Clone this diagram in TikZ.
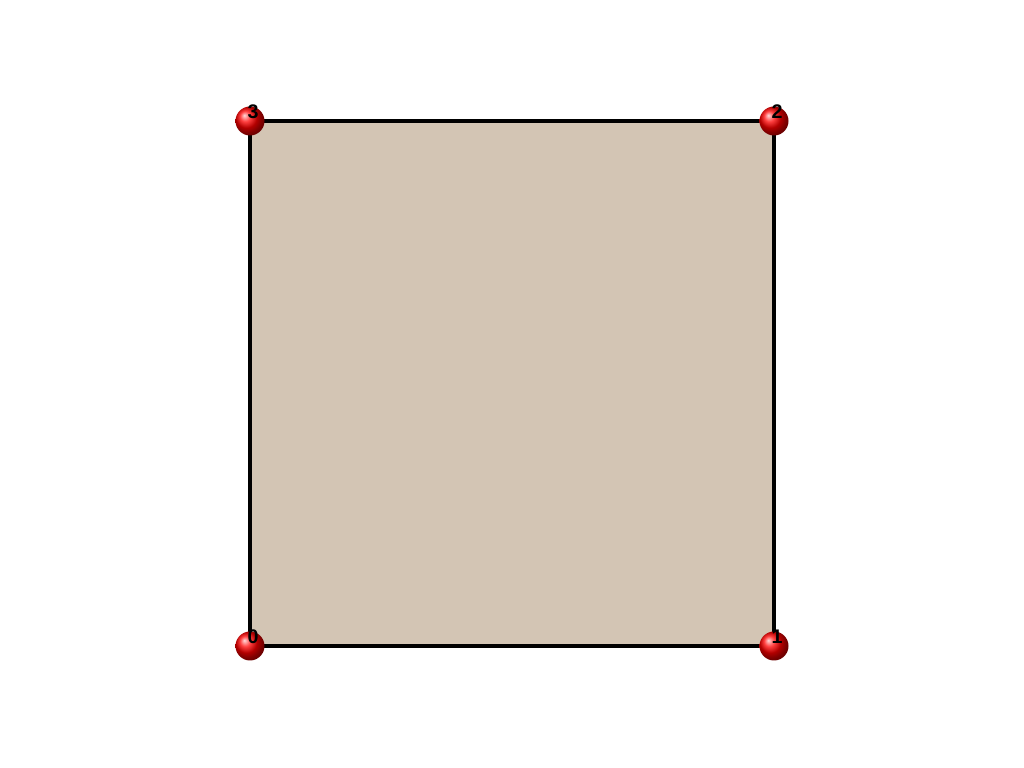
\documentclass[tikz,border=0pt]{standalone}
\usepackage{xcolor}
\usepackage{fontspec}
\setmainfont{Liberation Sans}
\definecolor{facetan}{RGB}{211,197,180}
\definecolor{ballred}{RGB}{255,0,0}

\tikzset{
    vertex/.style={circle, inner sep=0pt, minimum size=0.29cm, shading=ball, ball color=ballred},
    vlabel/.style={inner sep=0pt, font=\bfseries\fontsize{5.6}{6}\selectfont}
}

\begin{document}
\begin{tikzpicture}

\useasboundingbox (0,0) rectangle (10.24,7.68);

\coordinate (c0) at (2.50,1.22);
\coordinate (c1) at (7.74,1.22);
\coordinate (c2) at (7.74,6.47);
\coordinate (c3) at (2.50,6.47);

% face
\filldraw[fill=facetan, line width=1.3pt] (c0) -- (c1) -- (c2) -- (c3) -- cycle;

% points
\foreach \i in {0,...,3} {
    \node[vertex] (p\i) at (c\i) {};
    \node[vlabel] (l\i) at ([shift={(0.03,0.09)}]c\i) {\i};
}

\end{tikzpicture}
\end{document}
